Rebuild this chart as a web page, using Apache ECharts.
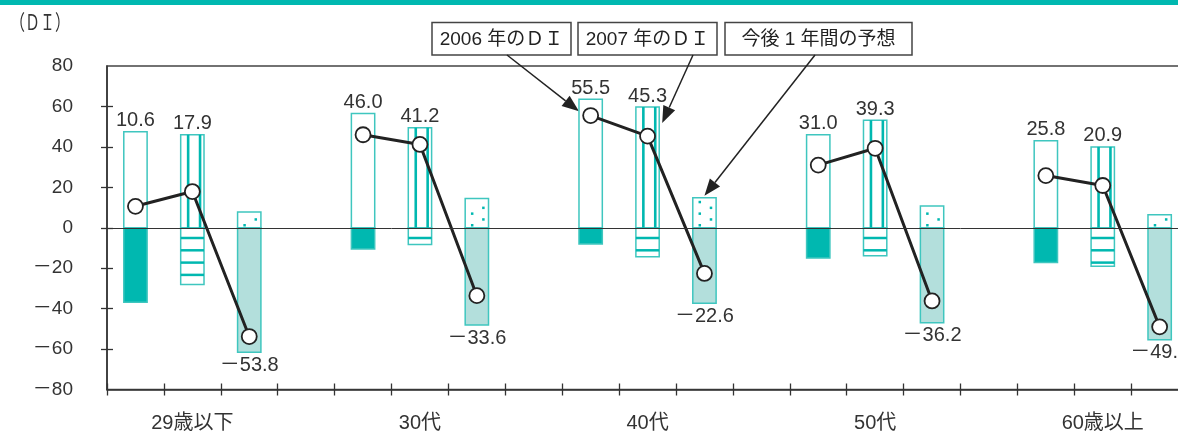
<!DOCTYPE html>
<html>
<head>
<meta charset="utf-8">
<script src="https://cdn.jsdelivr.net/npm/echarts@6/dist/echarts.min.js"></script>
<style>
  html, body { margin: 0; padding: 0; background: #fff; overflow: hidden; }
  /* the plot runs past the right edge of the page, so the canvas is wider than the view */
  #chart { width: 1262px; height: 436px; }
</style>
</head>
<body>
<div id="chart"></div>
<script>
// Age groups on the horizontal axis
const categories = ['29歳以下', '30代', '40代', '50代', '60歳以上'];
const seriesNames = ['2006 年のＤＩ', '2007 年のＤＩ', '今後 1 年間の予想'];

// Share answering "up" / "down" (%) and the resulting DI (= up − down)
const up2006   = [47.5, 56.5, 63.5, 46.0, 43.0];
const down2006 = [36.9, 10.5,  8.0, 15.0, 17.2];
const di2006   = [10.6, 46.0, 55.5, 31.0, 25.8];

const up2007   = [46.0, 49.5, 59.7, 53.2, 40.0];
const down2007 = [28.1,  8.3, 14.4, 13.9, 19.1];
const di2007   = [17.9, 41.2, 45.3, 39.3, 20.9];

const upNext   = [ 7.8, 14.5, 14.8, 10.8,  6.4];
const downNext = [61.6, 48.1, 37.4, 47.0, 55.4];
const diNext   = [-53.8, -33.6, -22.6, -36.2, -49.0];

const yTicks = [-80, -60, -40, -20, 0, 20, 40, 60, 80];

const FONT = "'Liberation Sans','Noto Sans CJK JP',sans-serif";
const TEAL = '#00b8b0';
const EDGE = '#3fc6bf';
const PALE = '#b3dfdc';
const INK = '#333';

// Each age group takes four slots: three bars and a spacer
const SLOTS = 4;
const slotIds = [];
const slotText = [];
categories.forEach((c, g) => {
  for (let k = 0; k < SLOTS; k++) {
    slotIds.push('s' + (g * SLOTS + k));
    slotText.push(k === 1 ? c : '');
  }
});

const fmt = v => (v < 0 ? '－' + (-v).toFixed(1) : v.toFixed(1));

// Split bar: "up" part above zero, "down" part below zero, DI label on the end
function splitBars(kind, ups, downs, dis) {
  return {
    type: 'custom',
    name: seriesNames[kind],
    z: 2,
    silent: true,
    data: categories.map((c, g) => [g * SLOTS + kind, ups[g], downs[g], dis[g]]),
    encode: { x: 0, y: 1 },
    renderItem(params, api) {
      const slot = api.value(0), up = api.value(1), down = api.value(2), di = api.value(3);
      const base = api.coord([slot, 0]);
      const top = api.coord([slot, up]);
      const bot = api.coord([slot, -down]);
      const w = api.size([1, 0])[0] * 0.41;
      const x0 = base[0] - w / 2;
      const kids = [];
      kids.push({ type: 'rect', shape: { x: x0, y: top[1], width: w, height: base[1] - top[1] },
        style: { fill: '#fff', stroke: EDGE, lineWidth: 1.5 } });
      kids.push({ type: 'rect', shape: { x: x0, y: base[1], width: w, height: bot[1] - base[1] },
        style: { fill: kind === 0 ? TEAL : (kind === 1 ? '#fff' : PALE), stroke: EDGE, lineWidth: 1.5 } });
      if (kind === 1) {
        [0.32, 0.83].forEach(f => kids.push({ type: 'rect',
          shape: { x: x0 + w * f - 1.3, y: top[1], width: 2.6, height: base[1] - top[1] },
          style: { fill: TEAL } }));
        for (let y = base[1] + 9; y + 2.5 < bot[1] - 1; y += 12.3) {
          kids.push({ type: 'rect', shape: { x: x0, y: y, width: w, height: 2.5 }, style: { fill: TEAL } });
        }
      }
      if (kind === 2) {
        let k = 0;
        for (let y = base[1] - 2.5; y - 1.3 > top[1] + 2.5; y -= 5.8, k++) {
          const f = k % 2 === 0 ? 0.3 : 0.78;
          kids.push({ type: 'rect', shape: { x: x0 + w * f - 1.25, y: y - 1.25, width: 2.5, height: 2.5 },
            style: { fill: TEAL } });
        }
      }
      const above = kind < 2;
      kids.push({ type: 'text', x: base[0], y: above ? top[1] - 1 : bot[1] + 3,
        style: { text: fmt(di), fill: INK, font: '20px ' + FONT, textAlign: 'center',
          textVerticalAlign: above ? 'bottom' : 'top' } });
      return { type: 'group', children: kids };
    }
  };
}

// DI points, joined within each age group only
const diLine = [];
categories.forEach((c, g) => { diLine.push(di2006[g], di2007[g], diNext[g], '-'); });

const tickStyle = { color: '#333', width: 1.3 };

// Axes come in pairs: one carries the line and labels, the other (pulled
// 6px into the plot) carries ticks that straddle the axis line.
const option = {
  animation: false,
  grid: { left: 107, top: 66, width: 1138, height: 323.5, show: true,
    borderColor: '#444', borderWidth: 1.5, backgroundColor: 'transparent' },
  xAxis: [
    { type: 'category', data: slotIds, boundaryGap: true, position: 'bottom',
      axisLine: { onZero: false, lineStyle: { color: '#333', width: 1.5 } },
      axisTick: { show: false },
      axisLabel: { interval: 0, margin: 24, color: INK, fontSize: 20, fontFamily: FONT,
        formatter: (v, i) => slotText[i] } },
    { type: 'category', data: slotIds, boundaryGap: true, position: 'bottom', offset: -6,
      axisLine: { show: false, onZero: false },
      axisTick: { show: true, interval: 0, length: 12, lineStyle: tickStyle },
      axisLabel: { show: false } }
  ],
  yAxis: [
    { type: 'value', min: -80, max: 80, interval: 20, position: 'left',
      axisLine: { show: true, onZero: false, lineStyle: { color: '#333', width: 1.5 } },
      axisTick: { show: false },
      axisLabel: { margin: 34, color: INK, fontSize: 19, fontFamily: FONT, customValues: yTicks,
        formatter: v => (v < 0 ? '－' + (-v) : String(v)) },
      splitLine: { show: false } },
    { type: 'value', min: -80, max: 80, interval: 20, position: 'left', offset: -6,
      axisLine: { show: false, onZero: false },
      axisTick: { show: true, length: 12, customValues: yTicks.slice(1, -1), lineStyle: tickStyle },
      axisLabel: { show: false },
      splitLine: { show: false } }
  ],
  series: [
    splitBars(0, up2006, down2006, di2006),
    splitBars(1, up2007, down2007, di2007),
    splitBars(2, upNext, downNext, diNext),
    {
      type: 'line', z: 4, silent: true, data: diLine, connectNulls: false,
      symbol: 'circle', symbolSize: 15, showAllSymbol: true,
      lineStyle: { color: '#222', width: 3 },
      itemStyle: { color: '#fff', borderColor: '#222', borderWidth: 1.8 },
      markLine: { silent: true, symbol: 'none', label: { show: false },
        lineStyle: { color: '#333', width: 1, type: 'solid' }, data: [{ yAxis: 0 }] }
    }
  ]
};

const chart = echarts.init(document.getElementById('chart'), null, { renderer: 'canvas' });
chart.setOption(option);

// Callout boxes with arrows pointing at the 40代 bars
const px = (slot, v) => chart.convertToPixel({ xAxisIndex: 0, yAxisIndex: 0 }, [slot, v]);
const slotW = px(1, 0)[0] - px(0, 0)[0];
const barW = slotW * 0.41;
const g40 = 2;
const s06 = g40 * SLOTS, s07 = g40 * SLOTS + 1, sNx = g40 * SLOTS + 2;

function arrow(from, to) {
  const dx = to[0] - from[0], dy = to[1] - from[1], L = Math.hypot(dx, dy);
  const ux = dx / L, uy = dy / L, hl = 17, hw = 6.5;
  const bx = to[0] - ux * hl, by = to[1] - uy * hl;
  return [
    { type: 'line', silent: true, shape: { x1: from[0], y1: from[1], x2: bx, y2: by },
      style: { stroke: '#222', lineWidth: 1.5 } },
    { type: 'polygon', silent: true,
      shape: { points: [to, [bx - uy * hw, by + ux * hw], [bx + uy * hw, by - ux * hw]] },
      style: { fill: '#222' } }
  ];
}

const boxes = [
  { x: 432, w: 139, text: seriesNames[0], anchor: 507 },
  { x: 578, w: 139, text: seriesNames[1], anchor: 693 },
  { x: 725, w: 187, text: seriesNames[2], anchor: 815 }
];
const boxTop = 22.5, boxH = 32.5;

const tips = [
  [px(s06, 0)[0] - barW / 2, px(s06, up2006[g40])[1] + 12],
  [px(s07, 0)[0] + barW / 2 + 3, px(s07, up2007[g40])[1] + 16],
  [px(sNx, 0)[0], px(sNx, upNext[g40])[1] - 2]
];

const graphics = [
  { type: 'rect', silent: true, shape: { x: 0, y: 0, width: 1262, height: 5 }, style: { fill: TEAL } },
  { type: 'text', silent: true, x: 10, y: 12, scaleY: 1.4,
    style: { text: '（ＤＩ）', fill: INK, font: "15px 'Noto Sans CJK JP',sans-serif",
      textAlign: 'left', textVerticalAlign: 'top' } }
];
boxes.forEach((b, i) => {
  graphics.push({ type: 'rect', silent: true, shape: { x: b.x, y: boxTop, width: b.w, height: boxH },
    style: { fill: '#fff', stroke: '#444', lineWidth: 1.5 } });
  graphics.push({ type: 'text', silent: true, x: b.x + b.w / 2, y: boxTop + boxH / 2 + 1,
    style: { text: b.text, fill: '#222', font: '19px ' + FONT, textAlign: 'center', textVerticalAlign: 'middle' } });
  arrow([b.anchor, boxTop + boxH], tips[i]).forEach(e => graphics.push(e));
});

chart.setOption({ graphic: { elements: graphics } });
</script>
</body>
</html>
